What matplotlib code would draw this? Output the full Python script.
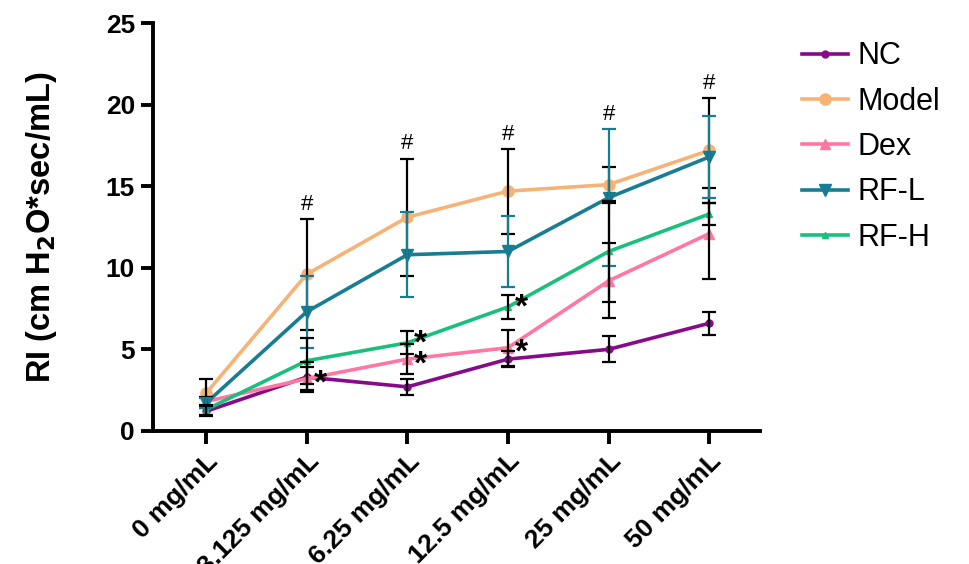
import matplotlib
matplotlib.use('Agg')
import matplotlib.pyplot as plt
import numpy as np

plt.rcParams['font.family'] = ['Liberation Sans', 'DejaVu Sans']

# Концентрации
doses = ['0 mg/mL', '3.125 mg/mL', '6.25 mg/mL', '12.5 mg/mL', '25 mg/mL', '50 mg/mL']

# RI по группам (среднее и ошибка)
nc = [1.2, 3.3, 2.7, 4.4, 5.0, 6.6]
nc_err = [0.3, 0.9, 0.5, 0.5, 0.8, 0.7]
model = [2.3, 9.6, 13.1, 14.7, 15.1, 17.2]
model_err = [0.9, 3.4, 3.6, 2.6, 1.1, 3.2]
dex = [1.8, 3.2, 4.4, 5.1, 9.2, 12.1]
dex_err = [0.3, 0.7, 0.9, 1.1, 2.3, 2.8]
rf_l = [1.7, 7.3, 10.8, 11.0, 14.3, 16.8]
rf_l_err = [0.3, 2.2, 2.6, 2.2, 4.2, 2.5]
rf_h = [1.3, 4.3, 5.4, 7.6, 11.0, 13.3]
rf_h_err = [0.3, 1.4, 0.7, 0.75, 3.1, 0.7]

# Значимость: # (Model vs NC), * (vs Model)
hash_idx = [1, 2, 3, 4, 5]
dex_star = [1, 2, 3]
rf_h_star = [2, 3]

x = np.arange(len(doses))

fig = plt.figure(figsize=(9.69, 5.64), dpi=100)
ax = fig.add_axes([0.158, 0.236, 0.626, 0.723])

groups = [
    ('NC', nc, nc_err, '#870A8A', 'o', 5, 'black'),
    ('Model', model, model_err, '#F7B275', 'o', 8, 'black'),
    ('Dex', dex, dex_err, '#FF77A2', '^', 7, 'black'),
    ('RF-L', rf_l, rf_l_err, '#177D92', 'v', 8, '#177D92'),
    ('RF-H', rf_h, rf_h_err, '#19BF7C', '^', 5, 'black'),
]

handles = []
for name, y, err, color, marker, ms, ecolor in groups:
    ax.errorbar(x, y, yerr=err, fmt='none', ecolor=ecolor, elinewidth=1.6,
                capsize=5, capthick=1.6, zorder=3)
    line, = ax.plot(x, y, color=color, lw=2.6, marker=marker, markersize=ms,
                    label=name, zorder=2)
    handles.append(line)

# Значки над столбцами ошибок
tops = np.max([np.array(g[1]) + np.array(g[2]) for g in groups], axis=0)
for i in hash_idx:
    ax.annotate('#', (x[i], tops[i]), xytext=(0, 3), textcoords='offset points',
                ha='center', va='bottom', fontsize=16)
for i in dex_star:
    ax.annotate('*', (x[i], dex[i]), xytext=(5, -4), textcoords='offset points',
                ha='left', va='center', fontsize=24, fontweight='bold')
for i in rf_h_star:
    ax.annotate('*', (x[i], rf_h[i]), xytext=(5, -1), textcoords='offset points',
                ha='left', va='center', fontsize=24, fontweight='bold')

ax.set_xlim(-0.525, 5.5)
ax.set_ylim(0, 25)
ax.set_yticks([0, 5, 10, 15, 20, 25])
ax.set_xticks(x)
ax.set_xticklabels(doses, rotation=45, ha='right', rotation_mode='anchor')

for s in ['top', 'right']:
    ax.spines[s].set_visible(False)
for s in ['left', 'bottom']:
    ax.spines[s].set_linewidth(2.8)
ax.tick_params(width=2.8, length=9, labelsize=19, direction='out', pad=4)
for lab in ax.get_xticklabels() + ax.get_yticklabels():
    lab.set_fontweight('bold')
ax.set_ylabel('RI (cm H$_\\mathbf{2}$O*sec/mL)', fontsize=23.5, fontweight='bold',
              labelpad=34)

ax.legend(handles=handles, loc='upper left', bbox_to_anchor=(1.04, 1.0),
          frameon=False, fontsize=22, handlelength=1.5, labelspacing=0.5,
          handletextpad=0.3, borderaxespad=0.2)

plt.savefig('out.png', dpi=100)
